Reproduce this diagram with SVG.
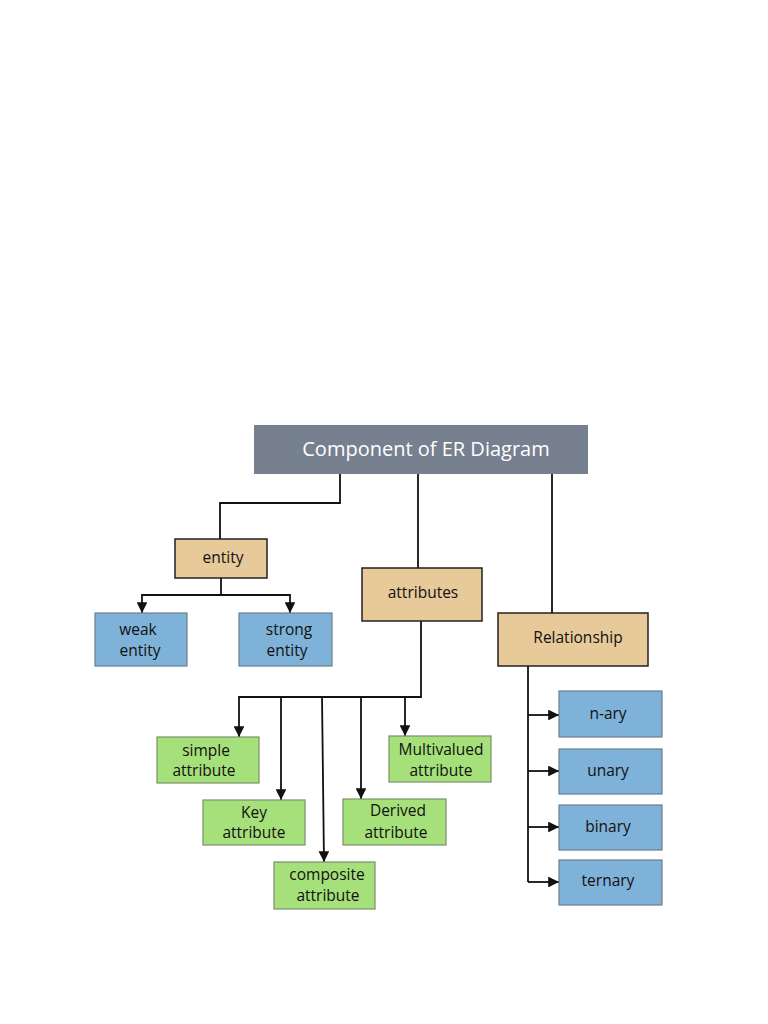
<svg xmlns="http://www.w3.org/2000/svg" width="768" height="1024" viewBox="0 0 768 1024">
<style>
.t{font-family:"Open Sans","Noto Sans",sans-serif;font-size:15.5px;fill:#111;text-anchor:middle}
.tan{fill:#e8c99a;stroke:#222;stroke-width:1.5}
.blue{fill:#7fb2d8;stroke:#6a7f8f;stroke-width:1.2}
.green{fill:#a6e07a;stroke:#7a8f6a;stroke-width:1.2}
.c{fill:none;stroke:#111;stroke-width:1.8}
</style>
<defs>
<marker id="a" viewBox="0 0 10 10" refX="10" refY="5" markerWidth="6" markerHeight="6" orient="auto" markerUnits="strokeWidth">
<path d="M0,0 L10,5 L0,10 z" fill="#111"/>
</marker>
</defs>
<rect width="768" height="1024" fill="#fff"/>
<g id="connectors">
<path class="c" d="M340,474 V503 H220 V539"/>
<path class="c" d="M418,474 V568"/>
<path class="c" d="M552,474 V613"/>
<path class="c" d="M221,578 V595"/>
<path class="c" d="M221,595 H142 V613" marker-end="url(#a)"/>
<path class="c" d="M221,595 H290 V613" marker-end="url(#a)"/>
<path class="c" d="M421,621 V697 H239 V737" marker-end="url(#a)"/>
<path class="c" d="M281,697 V800" marker-end="url(#a)"/>
<path class="c" d="M322,697 L324,862" marker-end="url(#a)"/>
<path class="c" d="M361,697 V799" marker-end="url(#a)"/>
<path class="c" d="M405,697 V736" marker-end="url(#a)"/>
<path class="c" d="M528,666 V882"/>
<path class="c" d="M528,715 H559" marker-end="url(#a)"/>
<path class="c" d="M528,771 H559" marker-end="url(#a)"/>
<path class="c" d="M528,827 H559" marker-end="url(#a)"/>
<path class="c" d="M528,882 H559" marker-end="url(#a)"/>
</g>
<g id="title">
<rect x="254" y="425" width="334" height="49" fill="#76808f"/>
<text x="426" y="456" class="t" style="font-size:20px;fill:#fff">Component of ER Diagram</text>
</g>
<g id="entity">
<rect class="tan" x="175" y="539" width="92" height="39"/>
<text x="223" y="563" class="t">entity</text>
</g>
<g id="weak-entity">
<rect class="blue" x="95" y="613" width="92" height="53"/>
<text x="138" y="635" class="t">weak</text>
<text x="140" y="656" class="t">entity</text>
</g>
<g id="strong-entity">
<rect class="blue" x="239" y="613" width="93" height="53"/>
<text x="289" y="635" class="t">strong</text>
<text x="287" y="656" class="t">entity</text>
</g>
<g id="attributes">
<rect class="tan" x="362" y="568" width="120" height="53"/>
<text x="423" y="598" class="t">attributes</text>
</g>
<g id="relationship">
<rect class="tan" x="498" y="613" width="150" height="53"/>
<text x="578" y="643" class="t">Relationship</text>
</g>
<g id="simple-attribute">
<rect class="green" x="157" y="737" width="102" height="46"/>
<text x="206" y="756" class="t">simple</text>
<text x="204" y="776" class="t">attribute</text>
</g>
<g id="key-attribute">
<rect class="green" x="203" y="800" width="102" height="45"/>
<text x="254" y="818" class="t">Key</text>
<text x="254" y="838" class="t">attribute</text>
</g>
<g id="composite-attribute">
<rect class="green" x="274" y="862" width="101" height="47"/>
<text x="327" y="880" class="t">composite</text>
<text x="328" y="901" class="t">attribute</text>
</g>
<g id="derived-attribute">
<rect class="green" x="343" y="799" width="103" height="46"/>
<text x="398" y="816" class="t">Derived</text>
<text x="396" y="838" class="t">attribute</text>
</g>
<g id="multivalued-attribute">
<rect class="green" x="389" y="736" width="102" height="46"/>
<text x="441" y="755" class="t">Multivalued</text>
<text x="441" y="776" class="t">attribute</text>
</g>
<g id="n-ary">
<rect class="blue" x="559" y="691" width="103" height="46"/>
<text x="608" y="719" class="t">n-ary</text>
</g>
<g id="unary">
<rect class="blue" x="559" y="749" width="103" height="45"/>
<text x="608" y="776" class="t">unary</text>
</g>
<g id="binary">
<rect class="blue" x="559" y="805" width="103" height="45"/>
<text x="608" y="832" class="t">binary</text>
</g>
<g id="ternary">
<rect class="blue" x="559" y="860" width="103" height="45"/>
<text x="608" y="886" class="t">ternary</text>
</g>
</svg>
